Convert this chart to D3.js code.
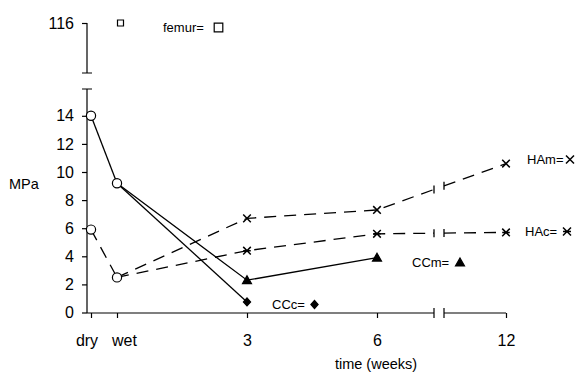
<!DOCTYPE html>
<html>
<head>
<meta charset="utf-8">
<script src="https://cdn.jsdelivr.net/npm/d3@7"></script>
<style>
  body { margin: 0; background: #fff; }
  svg { display: block; font-family: "Liberation Sans", Arial, Helvetica, sans-serif; }
</style>
</head>
<body>
<div id="chart"></div>
<script>
// ── Data ────────────────────────────────────────────────────────────────
var xTickValues = [-0.6, 0, 3, 6, 12];          // dry, wet, weeks
var xTickLabels = ["dry", "wet", "3", "6", "12"];
var yTickValues = [0, 2, 4, 6, 8, 10, 12, 14];
var yTopTick = 116;

var dryWetTimes = [-0.6, 0];
var ccDryWet = [14.0, 9.2];
var haDryWet = [5.9, 2.5];

var femurTime = 0, femurValue = 116;

var ccmTimes = [0, 3, 6],      ccmValues = [9.2, 2.3, 3.9];
var cccTimes = [0, 3],         cccValues = [9.2, 0.75];
var hamTimes = [0, 3, 6, 12],  hamValues = [2.5, 6.7, 7.3, 10.6];
var hacTimes = [0, 3, 6, 12],  hacValues = [2.5, 4.4, 5.6, 5.7];

(function () {
  var W = 576, H = 374;
  var FONT = "Liberation Sans, Arial, Helvetica, sans-serif";
  var axisX = 87, axisY = 313;
  var breakLo = 434, breakHi = 444;

  // broken time axis: dry..6 weeks linear, then compressed to 12
  var x = d3.scaleLinear().domain([0, 6, 12]).range([117, 377, 506]);
  var y = d3.scaleLinear().domain([0, 14]).range([312.5, 115.8]);
  var yTop = d3.scaleLinear().domain([110, 116]).range([73, 23]);

  var svg = d3.select("#chart").append("svg")
    .attr("width", W).attr("height", H);

  // ── Axes ──────────────────────────────────────────────────────────────
  var gy = svg.append("g")
    .attr("transform", "translate(" + axisX + ",0)")
    .call(d3.axisLeft(y).tickValues(yTickValues).tickSize(5).tickPadding(8));
  gy.select(".domain").remove();

  var gyTop = svg.append("g")
    .attr("transform", "translate(" + axisX + ",0)")
    .call(d3.axisLeft(yTop).tickValues([yTopTick]).tickFormat(d3.format("d"))
      .tickSize(5).tickPadding(8));
  gyTop.select(".domain").remove();

  var gx = svg.append("g")
    .attr("transform", "translate(0," + axisY + ")")
    .call(d3.axisBottom(x).tickValues(xTickValues)
      .tickFormat(function (d, i) { return xTickLabels[i]; })
      .tickSize(5).tickPadding(17));
  gx.select(".domain").remove();
  gx.selectAll(".tick text").attr("dx", function (d, i) {
    return i === 0 ? -4.5 : (i === 1 ? 7 : 0);
  });

  [gy, gyTop, gx].forEach(function (g) {
    g.attr("font-size", 16).attr("font-family", FONT);
    g.selectAll("line").attr("stroke", "#000").attr("stroke-width", 1.2);
    g.selectAll("text").attr("fill", "#000");
  });

  var axisPath = [
    // lower y segment with cap
    "M" + axisX + ",89V" + axisY, "M" + (axisX - 5) + ",89H" + (axisX + 5),
    // upper y segment with cap
    "M" + axisX + "," + yTop(yTopTick) + "V73", "M" + (axisX - 5) + ",73H" + (axisX + 5),
    // x axis with break
    "M" + axisX + "," + axisY + "H" + breakLo, "M" + breakHi + "," + axisY + "H" + x(12),
    "M" + breakLo + "," + (axisY - 5) + "V" + (axisY + 5),
    "M" + breakHi + "," + (axisY - 5) + "V" + (axisY + 5)
  ].join("");
  svg.append("path").attr("d", axisPath)
    .attr("fill", "none").attr("stroke", "#000").attr("stroke-width", 1.2);

  svg.append("text").attr("x", 9).attr("y", 189)
    .attr("font-size", 14.5).attr("font-family", FONT).text("MPa");
  svg.append("text").attr("x", 376).attr("y", 369).attr("text-anchor", "middle")
    .attr("font-size", 14.5).attr("font-family", FONT).text("time (weeks)");

  // ── Lines ─────────────────────────────────────────────────────────────
  function pts(times, values) {
    return times.map(function (t, i) { return [x(t), y(values[i])]; });
  }

  // split a polyline where it crosses the axis break, return pieces + break ticks
  function splitAtBreak(p) {
    var pieces = [[p[0]]], ticks = [];
    for (var i = 1; i < p.length; i++) {
      var a = p[i - 1], b = p[i];
      if (a[0] < breakLo && b[0] > breakHi) {
        var f = function (xx) { return [xx, a[1] + (b[1] - a[1]) * (xx - a[0]) / (b[0] - a[0])]; };
        var lo = f(breakLo), hi = f(breakHi);
        pieces[pieces.length - 1].push(lo);
        pieces.push([hi]);
        ticks.push(lo, hi);
      }
      pieces[pieces.length - 1].push(b);
    }
    return { pieces: pieces, ticks: ticks };
  }

  var line = d3.line();
  var lineG = svg.append("g").attr("fill", "none").attr("stroke", "#000").attr("stroke-width", 1.3);

  function drawSeries(times, values, dashed) {
    var s = splitAtBreak(pts(times, values));
    s.pieces.forEach(function (pc) {
      lineG.append("path").attr("d", line(pc))
        .attr("stroke-dasharray", dashed ? "12,8" : null);
    });
    s.ticks.forEach(function (t) {
      lineG.append("path").attr("d", "M" + t[0] + "," + (t[1] - 4) + "V" + (t[1] + 4));
    });
  }

  drawSeries(dryWetTimes, ccDryWet, false);
  drawSeries(dryWetTimes, haDryWet, true);
  drawSeries(ccmTimes, ccmValues, false);
  drawSeries(cccTimes, cccValues, false);
  drawSeries(hamTimes, hamValues, true);
  drawSeries(hacTimes, hacValues, true);

  // ── Markers ───────────────────────────────────────────────────────────
  var SHAPES = {
    triangle: function (r) { return "M0," + (-r) + "L" + r + "," + (r * 0.75) + "L" + (-r) + "," + (r * 0.75) + "Z"; },
    diamond:  function (r) { return "M0," + (-r) + "L" + (r * 0.9) + ",0L0," + r + "L" + (-r * 0.9) + ",0Z"; },
    square:   function (r) { return "M" + (-r) + "," + (-r) + "H" + r + "V" + r + "H" + (-r) + "Z"; },
    cross:    function (r) { return "M" + (-r) + "," + (-r) + "L" + r + "," + r + "M" + (-r) + "," + r + "L" + r + "," + (-r); },
    asterisk: function (r) { return SHAPES.cross(r) + "M" + (-r) + ",0H" + r; }
  };

  function marker(g, kind, cx, cy, r) {
    var fill = { triangle: "#000", diamond: "#000", square: "#fff" }[kind] || "none";
    g.append("path")
      .attr("transform", "translate(" + cx + "," + cy + ")")
      .attr("d", SHAPES[kind](r))
      .attr("fill", fill).attr("stroke", "#000")
      .attr("stroke-width", kind === "cross" || kind === "asterisk" ? 1.5 : 1.2);
  }

  var mk = svg.append("g");
  function markSeries(times, values, kind, r, skipFirst) {
    times.forEach(function (t, i) {
      if (skipFirst && i === 0) return;
      marker(mk, kind, x(t), y(values[i]), r);
    });
  }
  markSeries(ccmTimes, ccmValues, "triangle", 4.5, true);
  markSeries(cccTimes, cccValues, "diamond", 4, true);
  markSeries(hamTimes, hamValues, "cross", 3.8, true);
  markSeries(hacTimes, hacValues, "asterisk", 3.8, true);

  // dry / wet open circles
  [ccDryWet, haDryWet].forEach(function (vals) {
    mk.selectAll(null).data(vals).join("circle")
      .attr("cx", function (d, i) { return x(dryWetTimes[i]); })
      .attr("cy", function (d) { return y(d); })
      .attr("r", 4.6)
      .attr("fill", "#fff").attr("stroke", "#000").attr("stroke-width", 1.2);
  });

  // femur, on the upper broken segment
  marker(mk, "square", x(femurTime) + 3.5, yTop(femurValue), 3);

  // ── Legend labels ─────────────────────────────────────────────────────
  var legend = [
    { label: "femur=", kind: "square",   tx: 163, ty: 32,  mx: 218.5, r: 4.3 },
    { label: "HAm=",   kind: "cross",    tx: 527, ty: 164, mx: 570,   r: 4 },
    { label: "HAc=",   kind: "asterisk", tx: 525, ty: 236, mx: 567,   r: 4 },
    { label: "CCm=",   kind: "triangle", tx: 412, ty: 267, mx: 460,   r: 4.5 },
    { label: "CCc=",   kind: "diamond",  tx: 272, ty: 309, mx: 314.5, r: 4 }
  ];
  var lg = svg.append("g").attr("font-size", 13).attr("font-family", FONT);
  legend.forEach(function (d) {
    lg.append("text").attr("x", d.tx).attr("y", d.ty).text(d.label);
    marker(lg, d.kind, d.mx, d.ty - 4.5, d.r);
  });
})();
</script>
</body>
</html>
